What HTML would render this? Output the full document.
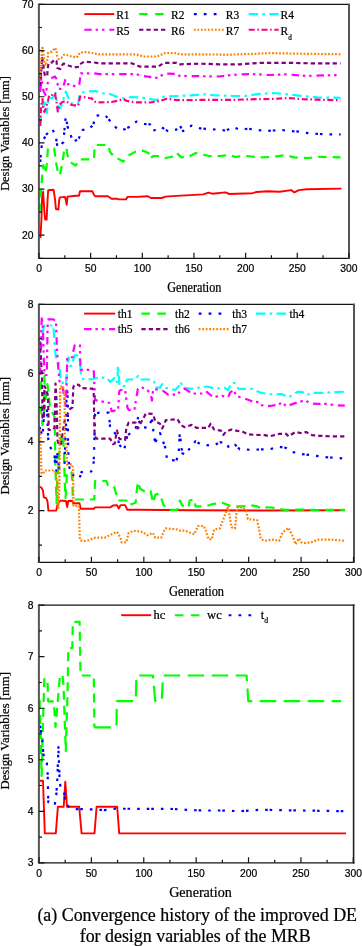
<!DOCTYPE html>
<html><head><meta charset="utf-8"><title>Convergence history</title>
<style>html,body{margin:0;padding:0;background:#fff;width:362px;height:946px;overflow:hidden} text{stroke:#000;stroke-width:0.22px}</style>
</head><body>
<div style="will-change:transform;width:362px;height:946px">
<svg width="362" height="946" viewBox="0 0 362 946" style="display:block">
<rect width="362" height="946" fill="#fff"/>
<path d="M40.4,238.0 L41.5,218.0 L42.2,193.0 L43.1,191.8 L44.4,212.0 L45.2,219.6 L46.6,219.6 L47.5,201.0 L48.2,190.2 L53.6,189.8 L55.1,199.9 L55.9,209.0 L58.4,209.5 L59.2,199.9 L60.0,197.4 L65.0,196.9 L65.8,199.9 L66.7,204.9 L67.5,196.6 L75.8,195.7 L79.1,195.7 L79.9,191.3 L92.4,191.3 L94.0,194.9 L95.4,196.2 L108.0,196.2 L111.5,198.7 L116.9,198.7 L118.7,199.4 L125.9,199.4 L127.7,196.9 L136.7,196.9 L147.5,196.2 L151.0,198.0 L161.8,198.0 L165.4,196.6 L176.2,195.9 L190.5,195.1 L203.1,194.4 L208.5,192.6 L212.1,193.7 L225.5,192.4 L229.3,194.0 L252.5,193.2 L256.4,192.0 L268.0,191.3 L279.6,191.7 L291.2,190.1 L294.3,192.4 L298.9,190.1 L306.7,189.3 L341.5,188.6" stroke="#ff0000" stroke-width="1.9" fill="none" stroke-linejoin="round"/>
<path d="M39.6,212.0 L40.8,195.0 L41.5,187.0 L42.3,172.0 L43.3,165.0 L45.5,173.5 L47.0,163.0 L47.8,150.0 L48.3,148.3 L54.1,148.3 L55.2,156.0 L56.5,165.0 L58.5,174.8 L59.9,174.8 L62.0,165.0 L63.5,155.0 L64.3,148.3 L66.5,148.3 L67.5,155.0 L69.8,161.5 L75.6,165.7 L79.8,159.3 L93.9,159.3 L94.7,146.3 L95.5,145.0 L108.2,145.0 L109.9,151.6 L111.5,154.1 L114.9,154.9 L117.3,158.2 L123.2,161.5 L128.1,155.7 L135.6,151.6 L143.0,150.7 L148.5,153.0 L149.4,158.5 L153.7,156.0 L159.5,156.0 L165.3,158.0 L175.5,156.0 L176.9,153.0 L181.3,157.4 L188.5,156.8 L195.8,153.0 L203.0,154.5 L208.8,156.0 L220.4,156.0 L229.1,155.1 L234.9,156.8 L246.5,156.0 L259.5,157.4 L274.0,156.8 L285.6,155.1 L294.3,157.4 L308.8,158.0 L320.4,156.8 L340.5,157.4" stroke="#00ff00" stroke-width="2.2" fill="none" stroke-linejoin="round" stroke-dasharray="8.5 6"/>
<path d="M40.3,162.0 L41.0,150.0 L42.6,141.0 L46.8,134.0 L52.5,129.0 L55.9,137.0 L57.5,147.3 L63.3,142.3 L64.2,133.0 L65.0,123.0 L65.8,116.5 L67.5,126.5 L73.3,142.3 L79.1,138.0 L81.6,129.8 L88.2,129.8 L93.2,124.8 L95.8,115.7 L104.9,114.9 L109.9,120.7 L113.2,124.8 L118.2,129.8 L124.8,129.3 L132.3,125.3 L136.4,121.5 L143.9,124.0 L150.0,124.3 L152.8,131.1 L161.0,127.0 L168.0,131.1 L176.2,129.7 L179.0,124.2 L183.1,131.1 L191.4,125.6 L199.7,128.3 L209.4,129.2 L219.0,129.7 L226.0,130.6 L232.9,127.0 L239.8,129.7 L247.9,128.7 L256.6,129.9 L265.3,131.0 L281.3,129.9 L290.0,131.0 L298.7,131.6 L305.9,132.8 L314.6,133.7 L323.3,134.2 L340.7,134.5" stroke="#0000ff" stroke-width="2.2" fill="none" stroke-linejoin="round" stroke-dasharray="2.6 1.9 2.6 7 2.6 7"/>
<path d="M40.2,124.6 L40.8,114.0 L41.8,103.4 L43.5,106.6 L45.1,100.0 L46.8,113.2 L48.4,98.3 L52.6,98.0 L55.6,93.0 L57.1,103.4 L59.8,108.7 L62.4,103.4 L64.5,95.0 L65.8,91.7 L69.2,100.0 L71.6,103.3 L75.0,104.0 L78.0,104.0 L80.0,93.3 L85.7,91.7 L95.7,91.0 L100.0,93.0 L110.0,94.1 L118.2,97.5 L124.8,98.3 L131.4,97.0 L141.4,97.5 L150.0,99.0 L156.0,100.0 L163.8,96.6 L177.6,96.0 L205.2,94.4 L213.5,95.2 L232.9,96.0 L245.0,96.0 L259.5,93.9 L274.0,93.0 L288.5,94.5 L303.0,96.0 L317.5,97.4 L340.5,97.8" stroke="#00ffff" stroke-width="2.2" fill="none" stroke-linejoin="round" stroke-dasharray="9.4 4.3 2.6 4.3"/>
<path d="M40.2,92.0 L41.3,78.0 L42.3,84.4 L43.4,90.7 L45.5,95.0 L47.6,83.3 L49.7,79.1 L55.0,76.5 L56.6,79.1 L57.5,83.3 L58.2,88.6 L62.4,89.2 L64.0,84.4 L65.1,80.0 L66.0,84.5 L70.0,84.1 L75.8,86.6 L79.1,85.7 L80.0,79.1 L80.8,73.3 L94.0,73.3 L100.0,74.1 L136.0,74.1 L143.0,76.0 L158.0,78.0 L164.3,73.4 L176.5,74.0 L179.5,75.9 L219.0,76.5 L231.0,75.0 L250.0,74.0 L270.0,75.0 L285.6,74.3 L306.8,75.9 L340.5,75.0" stroke="#ff00ff" stroke-width="2.2" fill="none" stroke-linejoin="round" stroke-dasharray="7.5 3.8 2.5 3.8 2.5 4.9"/>
<path d="M40.2,86.0 L41.3,72.0 L42.0,57.0 L43.0,62.0 L44.0,71.0 L45.0,76.0 L47.2,76.0 L47.8,68.0 L48.5,63.0 L52.0,62.5 L54.5,59.5 L56.5,61.0 L57.2,68.0 L60.3,69.0 L61.5,66.0 L63.5,63.5 L66.0,64.5 L69.2,65.8 L74.1,67.5 L79.1,66.7 L80.0,64.2 L84.1,61.7 L94.0,62.5 L100.0,63.3 L132.0,63.3 L140.0,66.7 L158.0,66.7 L164.0,62.8 L176.5,62.8 L179.5,64.3 L200.0,63.7 L219.0,64.3 L240.0,64.3 L261.0,62.8 L285.6,62.8 L316.0,63.4 L340.5,63.4" stroke="#800080" stroke-width="2.2" fill="none" stroke-linejoin="round" stroke-dasharray="4.3 3"/>
<path d="M40.2,77.0 L40.8,71.7 L41.3,61.1 L42.3,46.3 L43.4,53.7 L44.5,64.3 L45.5,65.9 L47.6,59.0 L48.2,52.7 L51.9,51.6 L55.0,47.9 L56.6,50.6 L57.1,55.9 L58.7,59.0 L61.4,58.0 L64.0,54.8 L66.7,55.0 L69.2,55.9 L72.5,56.7 L76.6,57.5 L80.0,52.6 L85.7,52.0 L94.0,53.4 L100.0,54.4 L136.0,54.4 L143.0,56.5 L157.0,56.5 L165.0,53.0 L176.5,53.1 L179.5,54.3 L231.0,54.6 L258.0,53.7 L270.0,53.1 L300.0,53.7 L340.5,54.3" stroke="#ff8000" stroke-width="2.2" fill="none" stroke-linejoin="round" stroke-dasharray="1.8 1.7"/>
<path d="M40.2,126.0 L41.0,107.0 L42.5,99.0 L43.4,109.8 L44.5,111.9 L46.6,105.5 L48.2,100.0 L49.3,95.0 L52.6,95.0 L55.0,93.5 L56.7,103.3 L57.8,111.5 L59.2,105.0 L62.5,102.0 L65.8,101.0 L69.2,103.3 L71.6,105.0 L78.3,105.7 L80.0,96.6 L89.0,98.0 L92.0,98.3 L93.3,101.6 L100.0,102.4 L111.5,102.0 L117.3,100.8 L123.2,99.1 L126.5,100.8 L134.8,102.4 L150.0,102.5 L161.0,100.7 L166.6,98.8 L177.6,100.2 L205.0,99.9 L233.0,99.9 L250.0,99.3 L274.0,98.9 L288.5,98.0 L303.0,99.1 L317.5,99.7 L340.5,100.3" stroke="#ff0080" stroke-width="2.2" fill="none" stroke-linejoin="round" stroke-dasharray="6 2.6 1.6 2.6"/>
<path d="M39.2,487.0 L41.3,487.4 L43.0,490.7 L43.8,497.3 L46.3,498.2 L47.5,501.5 L48.4,510.6 L56.2,510.6 L57.5,504.8 L60.0,500.7 L63.7,500.7 L66.0,501.0 L67.2,507.0 L68.3,501.0 L72.3,500.8 L73.2,503.3 L79.5,503.3 L80.6,508.7 L93.7,508.7 L95.1,507.4 L110.2,507.4 L113.0,505.5 L117.0,505.1 L118.8,508.6 L120.5,505.1 L125.1,505.1 L127.4,509.8 L137.9,509.8 L190.0,510.2 L265.0,510.5 L344.8,510.3" stroke="#ff0000" stroke-width="1.9" fill="none" stroke-linejoin="round"/>
<path d="M40.0,390.0 L41.8,378.0 L44.5,376.0 L44.5,386.0 L44.0,398.0 L41.0,409.0 L42.5,425.0 L44.5,410.0 L47.3,384.0 L48.2,390.0 L50.0,407.0 L52.0,412.0 L54.5,417.0 L55.0,437.0 L55.2,454.0 L55.5,470.0 L56.0,486.0 L56.5,503.0 L57.2,480.0 L58.5,462.0 L60.0,443.0 L61.5,436.0 L63.0,434.0 L63.8,450.0 L64.3,465.0 L64.8,483.0 L65.5,498.0 L66.3,488.0 L66.8,475.0 L67.5,472.0 L71.4,472.0 L72.3,480.0 L72.8,499.5 L94.3,499.5 L95.1,481.0 L106.5,481.0 L108.0,485.5 L113.5,486.0 L114.7,488.8 L118.1,500.5 L126.3,500.5 L128.6,505.1 L135.6,502.8 L136.7,491.2 L137.9,481.9 L140.2,488.8 L146.0,492.3 L150.7,491.2 L153.0,502.8 L155.3,494.7 L158.8,493.5 L161.2,498.1 L163.5,505.1 L170.5,509.8 L177.4,509.8 L179.8,500.5 L182.1,505.1 L185.0,507.4 L188.5,507.4 L189.7,500.5 L194.3,499.3 L195.5,506.3 L205.9,506.3 L212.9,504.0 L222.2,502.8 L225.7,504.0 L231.5,506.3 L243.1,506.3 L250.1,505.1 L257.1,506.3 L261.7,508.6 L265.0,507.4 L272.0,507.5 L276.0,508.5 L285.0,509.8 L300.0,509.6 L320.0,510.0 L344.8,509.8" stroke="#00ff00" stroke-width="2.2" fill="none" stroke-linejoin="round" stroke-dasharray="9 6"/>
<path d="M39.5,427.0 L42.5,436.0 L43.5,424.0 L44.5,404.0 L47.0,410.0 L48.3,440.0 L51.0,448.6 L54.5,455.5 L55.2,466.0 L56.2,471.0 L57.0,451.0 L58.3,462.0 L59.3,469.0 L62.0,467.0 L64.5,465.0 L65.3,440.0 L66.0,427.0 L66.5,397.0 L67.0,387.0 L67.8,400.0 L68.0,440.0 L68.5,459.0 L69.5,468.0 L71.0,468.0 L73.5,476.0 L79.5,478.5 L81.5,472.0 L85.5,471.5 L91.3,471.5 L93.4,467.0 L94.0,455.0 L95.1,414.0 L99.2,412.6 L108.9,412.6 L110.2,428.4 L117.0,435.3 L119.3,444.7 L124.0,450.5 L127.4,435.3 L130.9,433.0 L135.6,428.4 L137.9,417.9 L141.0,427.0 L148.4,427.9 L151.9,419.1 L154.2,437.7 L155.3,442.3 L160.0,433.0 L165.8,449.3 L167.0,459.8 L176.3,460.5 L178.6,454.0 L179.8,433.0 L180.9,442.3 L182.1,452.8 L185.0,455.1 L190.8,447.0 L195.5,441.2 L201.3,444.7 L212.9,445.8 L219.9,442.3 L225.7,442.3 L229.2,448.1 L235.0,444.7 L239.7,449.3 L250.1,449.8 L265.0,449.3 L269.7,449.2 L279.1,446.8 L286.1,448.0 L290.8,451.5 L300.2,453.9 L309.6,455.0 L319.0,456.2 L328.4,457.4 L344.8,458.6" stroke="#0000ff" stroke-width="2.2" fill="none" stroke-linejoin="round" stroke-dasharray="2.6 1.9 2.6 7 2.6 7"/>
<path d="M39.5,354.0 L41.5,345.0 L43.5,328.0 L44.3,325.5 L53.5,325.5 L54.5,345.0 L55.8,357.0 L58.7,362.0 L60.2,373.0 L60.8,381.5 L63.0,383.0 L64.5,382.0 L66.0,384.0 L67.5,362.0 L68.5,357.3 L70.0,366.0 L71.8,365.6 L74.3,355.7 L78.8,354.9 L80.0,362.0 L81.3,378.0 L84.6,379.7 L93.7,379.0 L99.2,376.9 L107.5,378.2 L110.0,381.9 L114.5,378.0 L115.5,382.0 L117.0,382.0 L117.6,375.0 L118.1,365.6 L118.8,375.0 L119.5,386.0 L126.0,386.0 L126.8,379.5 L135.6,379.5 L137.9,376.0 L140.2,379.5 L151.9,379.5 L154.2,381.9 L155.3,387.7 L160.0,387.7 L162.3,384.2 L164.7,387.7 L175.1,390.0 L178.6,386.5 L180.9,381.9 L182.1,387.7 L192.0,388.8 L207.1,386.5 L215.2,388.8 L224.5,387.7 L228.0,390.0 L231.5,383.0 L235.0,383.0 L238.5,388.8 L252.4,388.8 L259.4,392.3 L265.0,393.5 L274.4,394.5 L281.4,394.0 L288.5,397.5 L293.2,394.5 L297.9,391.7 L302.6,392.1 L306.1,395.2 L312.0,392.8 L323.7,392.8 L335.4,392.1 L344.8,391.7" stroke="#00ffff" stroke-width="2.2" fill="none" stroke-linejoin="round" stroke-dasharray="9.4 4.3 2.6 4.3"/>
<path d="M39.5,375.0 L40.8,360.0 L41.3,330.0 L41.8,316.4 L43.0,330.0 L43.8,360.0 L44.6,375.0 L46.8,375.0 L47.5,330.0 L48.0,319.3 L53.0,319.3 L56.0,321.0 L56.8,345.0 L58.0,365.0 L59.5,381.0 L62.5,386.0 L65.3,404.0 L66.5,390.0 L67.2,358.0 L70.6,357.5 L73.0,357.0 L73.5,350.0 L74.7,345.3 L79.9,345.3 L80.5,369.8 L93.7,370.0 L95.1,400.2 L110.2,403.0 L111.6,411.2 L113.5,410.9 L118.1,409.8 L119.3,391.2 L120.5,390.0 L125.1,390.0 L127.4,407.4 L128.6,409.8 L134.4,409.8 L136.7,395.8 L137.9,388.8 L142.6,387.7 L147.2,390.0 L150.7,393.5 L151.9,400.5 L153.0,391.2 L154.2,388.8 L163.5,391.2 L168.1,394.7 L177.4,394.7 L180.9,390.0 L185.0,388.8 L192.0,393.5 L203.6,393.5 L205.9,391.2 L212.9,397.0 L222.2,395.8 L228.0,397.7 L230.3,392.3 L233.8,390.0 L236.2,395.8 L243.1,398.1 L250.1,400.5 L252.4,401.6 L259.4,402.3 L261.7,405.1 L265.0,406.5 L272.0,405.7 L279.1,404.6 L281.4,402.2 L287.3,406.9 L290.8,404.6 L297.9,402.2 L302.6,401.0 L306.1,400.6 L309.6,403.4 L316.7,403.9 L326.0,403.9 L335.4,405.3 L344.8,405.7" stroke="#ff00ff" stroke-width="2.2" fill="none" stroke-linejoin="round" stroke-dasharray="7.5 3.8 2.5 3.8 2.5 4.9"/>
<path d="M39.5,341.0 L41.0,360.0 L42.0,376.0 L42.5,418.0 L43.8,418.3 L44.5,386.0 L46.5,390.0 L48.0,396.0 L48.5,418.0 L48.6,430.0 L52.5,430.0 L54.5,428.0 L55.5,383.5 L56.5,400.0 L57.5,440.0 L58.5,444.0 L61.0,445.0 L63.0,430.0 L65.0,419.0 L67.0,415.0 L70.0,409.0 L72.5,407.4 L73.3,387.0 L74.9,384.5 L78.9,384.8 L81.0,388.0 L92.5,388.7 L93.7,392.0 L94.6,436.0 L96.5,438.7 L110.2,438.7 L113.0,444.2 L114.7,443.5 L117.0,430.7 L119.3,438.8 L125.1,440.0 L126.3,428.4 L128.6,422.6 L135.6,422.6 L137.9,428.4 L146.0,413.3 L153.0,414.0 L155.3,421.4 L160.0,423.7 L162.3,428.4 L165.8,420.2 L177.4,419.1 L180.9,424.9 L184.4,427.2 L192.0,424.9 L196.6,427.9 L208.3,427.9 L210.6,423.7 L214.1,429.5 L221.0,430.7 L223.4,434.9 L225.7,431.9 L231.5,429.5 L236.2,430.7 L243.1,431.9 L247.8,434.2 L254.8,434.9 L265.0,435.1 L269.7,436.3 L279.1,433.9 L286.1,433.9 L288.5,436.3 L295.5,432.0 L302.6,433.4 L306.1,432.0 L312.0,435.1 L319.0,435.8 L330.7,436.3 L344.8,436.3" stroke="#800080" stroke-width="2.2" fill="none" stroke-linejoin="round" stroke-dasharray="4.3 3"/>
<path d="M40.0,430.0 L40.8,450.0 L41.5,473.0 L43.0,474.0 L44.5,470.5 L55.0,470.5 L57.0,480.0 L58.3,509.0 L59.3,490.0 L60.2,386.5 L63.0,386.5 L64.5,395.0 L65.0,440.0 L66.5,445.0 L67.0,464.4 L72.3,464.4 L73.1,470.0 L73.5,505.8 L78.9,505.8 L79.8,539.7 L80.6,540.5 L84.0,541.0 L88.2,540.4 L95.1,537.7 L104.7,537.7 L110.2,535.0 L117.0,531.9 L120.5,537.7 L121.6,542.3 L126.3,542.3 L128.6,533.0 L133.3,530.7 L142.6,531.9 L147.2,535.3 L153.0,533.0 L155.3,537.7 L161.2,537.7 L164.7,529.5 L165.8,528.4 L177.4,529.5 L179.8,530.7 L185.0,530.7 L194.3,534.2 L197.8,526.0 L203.6,526.0 L205.9,530.7 L208.3,538.8 L211.7,539.5 L214.1,529.5 L219.9,528.4 L223.4,519.1 L225.7,513.3 L228.0,506.3 L231.5,527.2 L235.0,528.4 L236.2,515.6 L237.3,507.4 L243.1,507.4 L246.6,512.1 L247.8,519.1 L257.1,520.2 L259.4,530.7 L260.6,538.8 L265.0,540.8 L272.0,539.6 L279.1,540.8 L282.6,532.5 L288.5,527.8 L293.2,537.2 L295.5,544.3 L299.0,538.4 L301.4,542.4 L306.1,543.1 L312.0,541.9 L319.0,539.6 L330.7,539.6 L344.8,540.8" stroke="#ff8000" stroke-width="2.2" fill="none" stroke-linejoin="round" stroke-dasharray="1.8 1.7"/>
<path d="M39.0,780.8 L43.0,780.8 L44.8,833.4 L55.8,833.4 L57.9,806.8 L63.7,806.8 L65.3,781.6 L67.0,806.8 L79.2,806.8 L81.6,833.4 L94.5,833.4 L96.6,806.8 L117.2,806.8 L119.2,833.4 L346.0,833.4" stroke="#ff0000" stroke-width="1.9" fill="none" stroke-linejoin="round"/>
<path d="M39.6,700.0 L40.8,740.0 L41.6,776.0 L42.4,745.0 L43.5,705.0 L44.3,679.0 L47.4,679.0 L48.2,701.3 L53.8,701.3 L55.5,727.0 L57.5,705.0 L58.7,690.0 L60.0,675.2 L62.5,675.2 L63.5,685.0 L64.5,715.0 L65.8,751.0 L66.7,720.0 L67.5,695.0 L68.3,648.1 L72.3,648.1 L72.8,621.9 L79.6,621.9 L80.5,675.5 L93.8,675.5 L94.4,727.4" stroke="#00ff00" stroke-width="2.2" fill="none" stroke-linejoin="round" stroke-dasharray="9 6"/>
<path d="M94.4,727.4 L116.5,727.4 L116.8,701.2 L135.8,701.2 L136.4,675.5 L153.0,675.5 L155.2,701.0 L161.8,701.0 L163.0,675.5 L246.6,675.5 L248.3,701.1 L341.1,701.1" stroke="#00ff00" stroke-width="2.2" fill="none" stroke-linejoin="round" stroke-dasharray="16.5 7.5"/>
<path d="M40.1,725.7 L41.8,735.7 L43.5,754.8 L46.8,763.0 L47.6,772.0 L48.3,802.3 L54.6,805.3 L56.2,796.5 L57.5,776.0 L58.4,747.0 L59.5,777.0 L60.4,787.0 L64.5,794.0 L65.3,804.0 L72.0,809.0 L89.4,809.3 L104.8,810.1 L115.8,808.7 L136.6,808.8 L169.7,808.8 L186.3,809.8 L202.9,810.5 L219.4,810.5 L240.0,811.2 L259.9,809.8 L344.4,811.2" stroke="#0000ff" stroke-width="2.2" fill="none" stroke-linejoin="round" stroke-dasharray="2.6 1.9 2.6 7 2.6 7"/>
<path d="M37.9,4.4H350M37.9,258.3H350" stroke="#151515" stroke-width="1.3" fill="none"/>
<path d="M38.9,3.8000000000000003V258.90000000000003" stroke="#555" stroke-width="2" fill="none"/>
<path d="M349,3.8000000000000003V258.90000000000003" stroke="#555" stroke-width="2" fill="none"/>
<path d="M39,235.22h5.5M39,189.05h5.5M39,142.89h5.5M39,96.73h5.5M39,50.56h5.5M39,4.40h5.5M39,258.30h3M39,212.14h3M39,165.97h3M39,119.81h3M39,73.65h3M39,27.48h3M39.00,258.3v-5.5M90.65,258.3v-5.5M142.30,258.3v-5.5M193.95,258.3v-5.5M245.60,258.3v-5.5M297.25,258.3v-5.5M348.90,258.3v-5.5M64.82,258.3v-3M116.47,258.3v-3M168.12,258.3v-3M219.78,258.3v-3M271.42,258.3v-3M323.07,258.3v-3" stroke="#151515" stroke-width="1.2" fill="none"/>
<text x="33.4" y="238.62" text-anchor="end" font-family='"Liberation Sans", sans-serif' font-size="10.3">20</text>
<text x="33.4" y="192.45" text-anchor="end" font-family='"Liberation Sans", sans-serif' font-size="10.3">30</text>
<text x="33.4" y="146.29" text-anchor="end" font-family='"Liberation Sans", sans-serif' font-size="10.3">40</text>
<text x="33.4" y="100.13" text-anchor="end" font-family='"Liberation Sans", sans-serif' font-size="10.3">50</text>
<text x="33.4" y="53.96" text-anchor="end" font-family='"Liberation Sans", sans-serif' font-size="10.3">60</text>
<text x="33.4" y="7.80" text-anchor="end" font-family='"Liberation Sans", sans-serif' font-size="10.3">70</text>
<text x="39.00" y="272.20" text-anchor="middle" font-family='"Liberation Sans", sans-serif' font-size="10.3">0</text>
<text x="90.65" y="272.20" text-anchor="middle" font-family='"Liberation Sans", sans-serif' font-size="10.3">50</text>
<text x="142.30" y="272.20" text-anchor="middle" font-family='"Liberation Sans", sans-serif' font-size="10.3">100</text>
<text x="193.95" y="272.20" text-anchor="middle" font-family='"Liberation Sans", sans-serif' font-size="10.3">150</text>
<text x="245.60" y="272.20" text-anchor="middle" font-family='"Liberation Sans", sans-serif' font-size="10.3">200</text>
<text x="297.25" y="272.20" text-anchor="middle" font-family='"Liberation Sans", sans-serif' font-size="10.3">250</text>
<text x="348.90" y="272.20" text-anchor="middle" font-family='"Liberation Sans", sans-serif' font-size="10.3">300</text>
<text transform="translate(194.30,291.60) scale(1,1.13)" text-anchor="middle" font-family='"Liberation Serif", serif' font-size="12.2">Generation</text>
<text transform="translate(8.9,133.5) rotate(-90)" text-anchor="middle" font-family='"Liberation Serif", serif' font-size="12.4">Design Variables [mm]</text>
<path d="M37.9,304.4H355M37.9,562.3H355" stroke="#151515" stroke-width="1.3" fill="none"/>
<path d="M38.9,303.79999999999995V562.9" stroke="#555" stroke-width="2" fill="none"/>
<path d="M354,303.79999999999995V562.9" stroke="#555" stroke-width="2" fill="none"/>
<path d="M39,510.72h5.5M39,441.95h5.5M39,373.17h5.5M39,304.40h5.5M39,545.11h3M39,476.33h3M39,407.56h3M39,338.79h3M39.00,562.3v-5.5M91.42,562.3v-5.5M143.83,562.3v-5.5M196.25,562.3v-5.5M248.67,562.3v-5.5M301.08,562.3v-5.5M353.50,562.3v-5.5M65.21,562.3v-3M117.62,562.3v-3M170.04,562.3v-3M222.46,562.3v-3M274.88,562.3v-3M327.29,562.3v-3" stroke="#151515" stroke-width="1.2" fill="none"/>
<text x="33.4" y="514.12" text-anchor="end" font-family='"Liberation Sans", sans-serif' font-size="10.3">2</text>
<text x="33.4" y="445.35" text-anchor="end" font-family='"Liberation Sans", sans-serif' font-size="10.3">4</text>
<text x="33.4" y="376.57" text-anchor="end" font-family='"Liberation Sans", sans-serif' font-size="10.3">6</text>
<text x="33.4" y="307.80" text-anchor="end" font-family='"Liberation Sans", sans-serif' font-size="10.3">8</text>
<text x="39.00" y="576.20" text-anchor="middle" font-family='"Liberation Sans", sans-serif' font-size="10.3">0</text>
<text x="91.42" y="576.20" text-anchor="middle" font-family='"Liberation Sans", sans-serif' font-size="10.3">50</text>
<text x="143.83" y="576.20" text-anchor="middle" font-family='"Liberation Sans", sans-serif' font-size="10.3">100</text>
<text x="196.25" y="576.20" text-anchor="middle" font-family='"Liberation Sans", sans-serif' font-size="10.3">150</text>
<text x="248.67" y="576.20" text-anchor="middle" font-family='"Liberation Sans", sans-serif' font-size="10.3">200</text>
<text x="301.08" y="576.20" text-anchor="middle" font-family='"Liberation Sans", sans-serif' font-size="10.3">250</text>
<text x="353.50" y="576.20" text-anchor="middle" font-family='"Liberation Sans", sans-serif' font-size="10.3">300</text>
<text transform="translate(196.50,596.20) scale(1,1.12)" text-anchor="middle" font-family='"Liberation Serif", serif' font-size="12.4">Generation</text>
<text transform="translate(8.9,435.8) rotate(-90)" text-anchor="middle" font-family='"Liberation Serif", serif' font-size="12.7">Design Variables [mm]</text>
<path d="M37.9,605.2H354.6M37.9,862.8H354.6" stroke="#151515" stroke-width="1.3" fill="none"/>
<path d="M38.9,604.6V863.4" stroke="#555" stroke-width="2" fill="none"/>
<path d="M353.6,604.6V863.4" stroke="#222" stroke-width="1.6" fill="none"/>
<path d="M39,862.80h5.5M39,811.28h5.5M39,759.76h5.5M39,708.24h5.5M39,656.72h5.5M39,605.20h5.5M39,837.04h3M39,785.52h3M39,734.00h3M39,682.48h3M39,630.96h3M39.00,862.8v-5.5M91.38,862.8v-5.5M143.77,862.8v-5.5M196.15,862.8v-5.5M248.53,862.8v-5.5M300.92,862.8v-5.5M353.30,862.8v-5.5M65.19,862.8v-3M117.58,862.8v-3M169.96,862.8v-3M222.34,862.8v-3M274.73,862.8v-3M327.11,862.8v-3" stroke="#151515" stroke-width="1.2" fill="none"/>
<text x="33.4" y="866.20" text-anchor="end" font-family='"Liberation Sans", sans-serif' font-size="10.3">3</text>
<text x="33.4" y="814.68" text-anchor="end" font-family='"Liberation Sans", sans-serif' font-size="10.3">4</text>
<text x="33.4" y="763.16" text-anchor="end" font-family='"Liberation Sans", sans-serif' font-size="10.3">5</text>
<text x="33.4" y="711.64" text-anchor="end" font-family='"Liberation Sans", sans-serif' font-size="10.3">6</text>
<text x="33.4" y="660.12" text-anchor="end" font-family='"Liberation Sans", sans-serif' font-size="10.3">7</text>
<text x="33.4" y="608.60" text-anchor="end" font-family='"Liberation Sans", sans-serif' font-size="10.3">8</text>
<text x="39.00" y="876.70" text-anchor="middle" font-family='"Liberation Sans", sans-serif' font-size="10.3">0</text>
<text x="91.38" y="876.70" text-anchor="middle" font-family='"Liberation Sans", sans-serif' font-size="10.3">50</text>
<text x="143.77" y="876.70" text-anchor="middle" font-family='"Liberation Sans", sans-serif' font-size="10.3">100</text>
<text x="196.15" y="876.70" text-anchor="middle" font-family='"Liberation Sans", sans-serif' font-size="10.3">150</text>
<text x="248.53" y="876.70" text-anchor="middle" font-family='"Liberation Sans", sans-serif' font-size="10.3">200</text>
<text x="300.92" y="876.70" text-anchor="middle" font-family='"Liberation Sans", sans-serif' font-size="10.3">250</text>
<text x="353.30" y="876.70" text-anchor="middle" font-family='"Liberation Sans", sans-serif' font-size="10.3">300</text>
<text transform="translate(200.50,897.20) scale(1,1.0)" text-anchor="middle" font-family='"Liberation Serif", serif' font-size="14.1">Generation</text>
<text transform="translate(8.9,730.8) rotate(-90)" text-anchor="middle" font-family='"Liberation Serif", serif' font-size="12.7">Design Variables [mm]</text>
<path d="M84.3,14.1h30" stroke="#ff0000" stroke-width="1.9" fill="none"/>
<text transform="translate(116.20,18.90) scale(0.94,1.09)" font-family='"Liberation Serif", serif' font-size="12.2">R1</text>
<path d="M139.1,14.1h30" stroke="#00ff00" stroke-width="2.1" fill="none" stroke-dasharray="8.5 7.5"/>
<text transform="translate(171.00,18.90) scale(0.94,1.09)" font-family='"Liberation Serif", serif' font-size="12.2">R2</text>
<path d="M193.89999999999998,14.1h28.5" stroke="#0000ff" stroke-width="2.1" fill="none" stroke-dasharray="2.8 7.1"/>
<text transform="translate(225.80,18.90) scale(0.94,1.09)" font-family='"Liberation Serif", serif' font-size="12.2">R3</text>
<path d="M248.7,14.1h30" stroke="#00ffff" stroke-width="2.1" fill="none" stroke-dasharray="9.4 4.3 2.6 4.3"/>
<text transform="translate(280.60,18.90) scale(0.94,1.09)" font-family='"Liberation Serif", serif' font-size="12.2">R4</text>
<path d="M84.3,29.8h30" stroke="#ff00ff" stroke-width="2.1" fill="none" stroke-dasharray="7.5 3.8 2.5 3.8 2.5 4.9"/>
<text transform="translate(116.20,34.60) scale(0.94,1.09)" font-family='"Liberation Serif", serif' font-size="12.2">R5</text>
<path d="M139.1,29.8h28" stroke="#800080" stroke-width="2.1" fill="none" stroke-dasharray="4.3 3"/>
<text transform="translate(171.00,34.60) scale(0.94,1.09)" font-family='"Liberation Serif", serif' font-size="12.2">R6</text>
<path d="M193.89999999999998,29.8h30" stroke="#ff8000" stroke-width="2.1" fill="none" stroke-dasharray="1.8 1.7"/>
<text transform="translate(225.80,34.60) scale(0.94,1.09)" font-family='"Liberation Serif", serif' font-size="12.2">R7</text>
<path d="M248.7,29.8h30" stroke="#ff0080" stroke-width="2.1" fill="none" stroke-dasharray="6 2.6 1.6 2.6"/>
<text transform="translate(280.60,34.60) scale(0.94,1.09)" font-family='"Liberation Serif", serif' font-size="12.2">R<tspan font-size="7.6" dy="4.5">d</tspan></text>
<path d="M84.1,313.6h31" stroke="#ff0000" stroke-width="1.9" fill="none"/>
<text transform="translate(117.70,317.90) scale(0.92,1.03)" font-family='"Liberation Serif", serif' font-size="12.6">th1</text>
<path d="M141.39999999999998,313.6h31" stroke="#00ff00" stroke-width="2.1" fill="none" stroke-dasharray="8.5 7.5"/>
<text transform="translate(175.00,317.90) scale(0.92,1.03)" font-family='"Liberation Serif", serif' font-size="12.6">th2</text>
<path d="M198.7,313.6h29.5" stroke="#0000ff" stroke-width="2.1" fill="none" stroke-dasharray="2.8 7.1"/>
<text transform="translate(232.30,317.90) scale(0.92,1.03)" font-family='"Liberation Serif", serif' font-size="12.6">th3</text>
<path d="M255.99999999999997,313.6h31" stroke="#00ffff" stroke-width="2.1" fill="none" stroke-dasharray="9.4 4.3 2.6 4.3"/>
<text transform="translate(289.60,317.90) scale(0.92,1.03)" font-family='"Liberation Serif", serif' font-size="12.6">th4</text>
<path d="M84.1,329.1h31" stroke="#ff00ff" stroke-width="2.1" fill="none" stroke-dasharray="7.5 3.8 2.5 3.8 2.5 4.9"/>
<text transform="translate(117.70,333.40) scale(0.92,1.03)" font-family='"Liberation Serif", serif' font-size="12.6">th5</text>
<path d="M141.39999999999998,329.1h29" stroke="#800080" stroke-width="2.1" fill="none" stroke-dasharray="4.3 3"/>
<text transform="translate(175.00,333.40) scale(0.92,1.03)" font-family='"Liberation Serif", serif' font-size="12.6">th6</text>
<path d="M198.7,329.1h31" stroke="#ff8000" stroke-width="2.1" fill="none" stroke-dasharray="1.8 1.7"/>
<text transform="translate(232.30,333.40) scale(0.92,1.03)" font-family='"Liberation Serif", serif' font-size="12.6">th7</text>
<path d="M121.2,615.2h30" stroke="#ff0000" stroke-width="1.9" fill="none"/>
<text transform="translate(153.40,618.90) scale(1.02,1.0)" font-family='"Liberation Serif", serif' font-size="12.3">hc</text>
<path d="M174.9,615.2h30" stroke="#00ff00" stroke-width="2.1" fill="none" stroke-dasharray="8.5 7.5"/>
<text transform="translate(207.10,618.90) scale(1.02,1.0)" font-family='"Liberation Serif", serif' font-size="12.3">wc</text>
<path d="M228.60000000000002,615.2h28.5" stroke="#0000ff" stroke-width="2.1" fill="none" stroke-dasharray="2.8 7.1"/>
<text transform="translate(260.80,618.90) scale(1.02,1.0)" font-family='"Liberation Serif", serif' font-size="12.3">t<tspan font-size="7.6" dy="4.5">d</tspan></text>
<text x="197.2" y="921" text-anchor="middle" font-family='"Liberation Serif", serif' font-size="17.9">(a) Convergence history of the improved DE</text>
<text x="195.2" y="942.4" text-anchor="middle" font-family='"Liberation Serif", serif' font-size="17.9">for design variables of the MRB</text>
</svg>
</div>
</body></html>
